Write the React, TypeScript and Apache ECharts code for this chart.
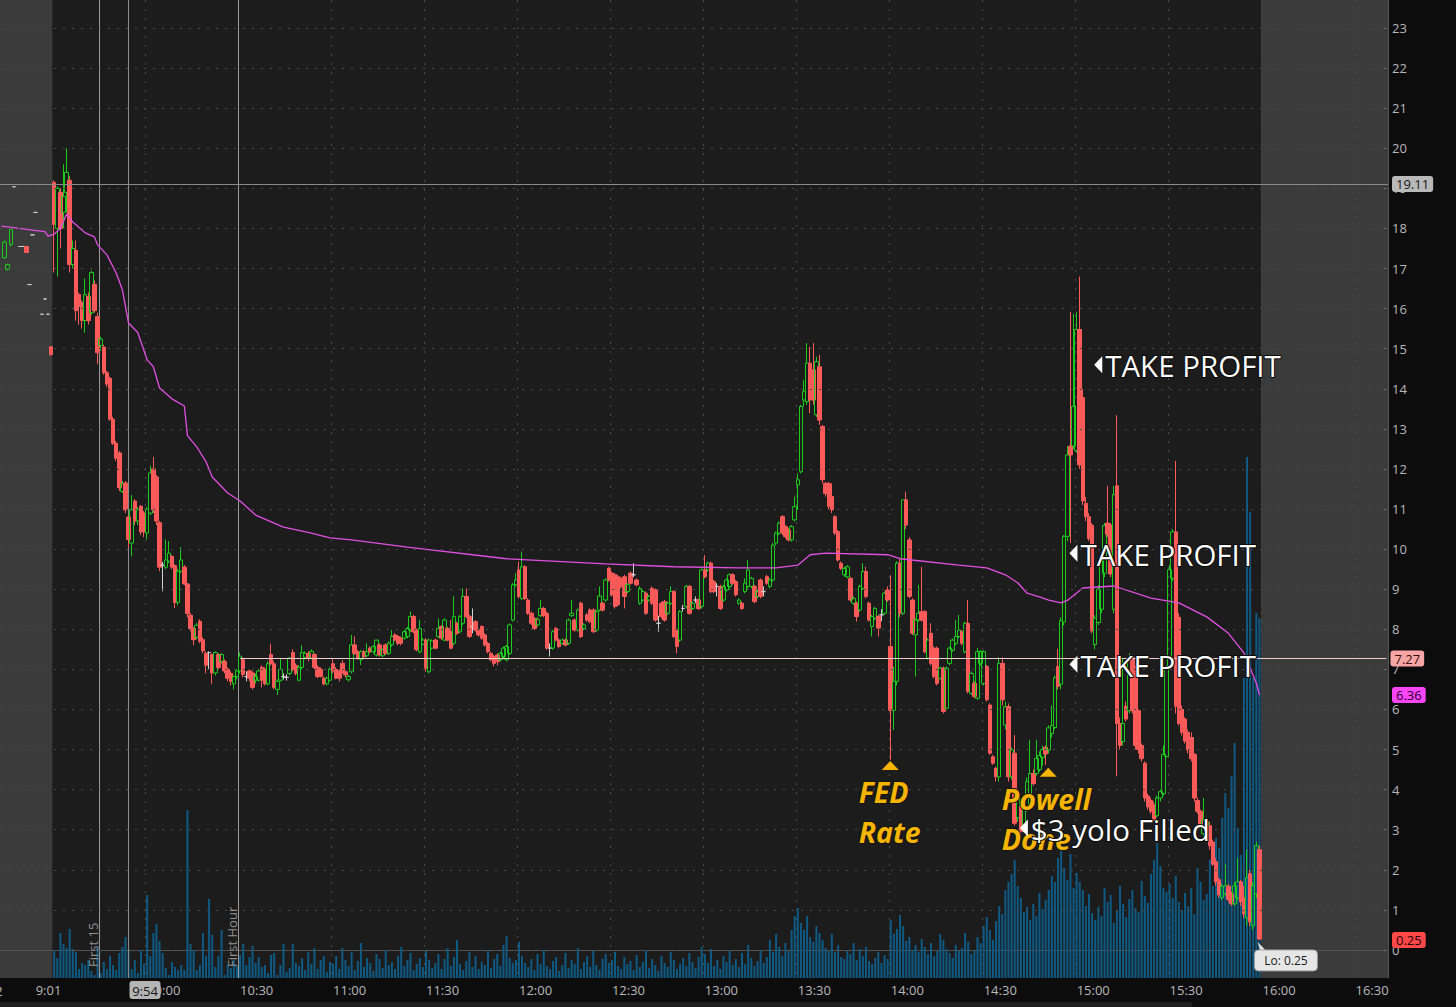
import React, { useEffect, useRef } from "react";
import * as echarts from "echarts";

const FONT = '"Open Sans", "Noto Sans", sans-serif';

// ---------- time axis ----------
const preMarketTimes = ["8:00", "8:04", "8:09", "8:15", "8:21", "8:26", "8:31", "8:37", "8:42", "8:47", "8:52", "9:01", "9:08", "9:13", "9:18", "9:23", "9:27"];
const shownTimes = ["9:01", "10:00", "10:30", "11:00", "11:30", "12:00", "12:30", "13:00", "13:30", "14:00", "14:30", "15:00", "15:30", "16:00", "16:30"];
const priceTicks = [0, 1, 2, 3, 4, 5, 6, 7, 8, 9, 10, 11, 12, 13, 14, 15, 16, 17, 18, 19, 20, 21, 22, 23];

// ---------- candles [open, close, low, high] ----------
const preMarket: any[] = [null, [17.27, 17.66, 17.25, 17.7], [16.98, 17.1, 16.95, 17.12], [17.6, 17.98, 17.55, 18.0], [19.04, 19.04, 19.04, 19.04], null, [17.55, 17.55, 17.55, 17.55], [17.55, 17.55, 17.55, 17.55], [17.55, 17.4, 17.4, 17.55], [16.6, 16.6, 16.6, 16.6], [17.84, 17.84, 17.84, 17.84], [18.4, 18.4, 18.4, 18.4], null, [15.86, 15.86, 15.86, 15.86], [16.24, 16.24, 16.24, 16.24], [15.86, 15.86, 15.86, 15.86], [15.05, 14.85, 14.83, 15.05]];

const c0930 = [[19.15, 18.1, 16.9, 19.2], [18.0, 19.0, 16.8, 19.05], [18.9, 18.0, 17.5, 19.0], [18.4, 18.8, 18.0, 19.6], [18.9, 19.4, 18.4, 20.0], [19.2, 17.1, 16.9, 19.3], [17.1, 17.5, 17.0, 17.7], [17.45, 15.95, 15.7, 17.7], [16.35, 16.05, 15.6, 16.4], [16.15, 15.7, 15.5, 16.2], [15.7, 16.35, 15.4, 16.75], [16.3, 15.7, 15.6, 16.4], [15.9, 16.9, 15.85, 16.95], [16.6, 15.95, 15.9, 16.7], [15.8, 14.9, 14.62, 15.9], [15.08, 15.24, 14.95, 15.3], [15.04, 14.4, 14.35, 15.1], [14.4, 14.12, 14.05, 14.45], [14.26, 13.24, 13.2, 14.3], [13.24, 12.64, 12.6, 13.3], [12.64, 12.27, 12.2, 12.7], [12.4, 11.53, 11.45, 12.45], [11.44, 11.63, 11.4, 11.7], [11.65, 10.98, 10.9, 11.7], [10.8, 10.24, 10.05, 10.85], [10.15, 10.98, 9.82, 11.35], [11.2, 10.7, 10.6, 11.25], [10.7, 10.98, 10.6, 11.05], [11.07, 10.43, 10.35, 11.1], [10.9, 10.43, 10.3, 10.95]];
const c1000 = [[10.4, 11.0, 10.24, 11.05], [10.9, 11.9, 10.85, 12.08], [12.0, 10.98, 10.9, 12.3], [11.8, 10.7, 10.6, 11.85], [10.66, 9.55, 9.45, 10.7], [9.6, 9.6, 8.95, 9.68], [9.55, 9.73, 9.5, 10.24], [9.7, 9.9, 9.65, 10.2], [9.82, 9.55, 9.5, 9.85], [9.59, 8.67, 8.53, 9.62], [8.67, 9.45, 8.6, 9.5], [9.45, 9.73, 9.4, 10.05], [9.55, 9.13, 9.1, 9.6], [9.13, 8.39, 8.3, 9.15], [8.35, 8.02, 7.95, 8.4], [8.02, 7.74, 7.6, 8.05], [7.8, 8.1, 7.75, 8.15], [8.2, 7.7, 7.65, 8.25], [7.74, 7.46, 7.4, 7.8], [7.4, 7.1, 6.9, 7.45], [7.42, 7.42, 7.0, 7.45], [7.37, 6.91, 6.64, 7.4], [6.91, 7.42, 6.85, 7.45], [7.37, 7.05, 7.0, 7.4], [7.2, 7.37, 7.15, 7.4], [7.2, 6.96, 6.9, 7.25], [7.0, 6.78, 6.7, 7.05], [6.9, 6.7, 6.6, 6.95], [6.64, 6.82, 6.5, 6.85], [6.82, 6.96, 6.75, 7.0]];
const c1030 = [[6.96, 7.33, 6.9, 7.42], [7.24, 6.87, 6.8, 7.3], [6.82, 6.82, 6.7, 6.95], [6.96, 6.78, 6.7, 7.0], [6.91, 6.55, 6.5, 6.95], [6.73, 6.82, 6.65, 6.9], [6.73, 6.96, 6.7, 7.0], [7.05, 6.73, 6.55, 7.1], [7.0, 6.64, 6.6, 7.05], [6.64, 7.14, 6.6, 7.2], [7.37, 7.14, 7.1, 7.64], [7.14, 6.55, 6.5, 7.2], [6.5, 6.7, 6.36, 6.75], [6.73, 7.0, 6.7, 7.28], [6.82, 6.82, 6.75, 6.9], [6.8, 6.8, 6.72, 6.88], [6.9, 7.28, 6.85, 7.3], [7.42, 7.0, 6.95, 7.5], [7.1, 6.9, 6.85, 7.15], [6.73, 7.05, 6.7, 7.1], [7.05, 7.42, 7.0, 7.6], [7.3, 7.4, 7.25, 7.45], [7.4, 7.28, 7.2, 7.45], [7.28, 7.45, 7.25, 7.5], [7.37, 7.05, 7.0, 7.4], [7.05, 6.82, 6.78, 7.1], [7.0, 6.82, 6.8, 7.05], [6.78, 6.64, 6.6, 6.82], [6.64, 6.78, 6.6, 6.82], [6.73, 7.0, 6.7, 7.05]];
const c1100 = [[7.14, 6.96, 6.9, 7.28], [7.0, 6.78, 6.75, 7.05], [6.96, 6.78, 6.7, 7.0], [7.15, 6.94, 6.9, 7.23], [6.94, 6.86, 6.8, 6.98], [6.74, 6.82, 6.7, 6.86], [6.94, 7.61, 6.9, 7.86], [7.61, 7.4, 7.36, 7.82], [7.44, 7.28, 7.24, 7.48], [7.24, 7.44, 7.11, 7.48], [7.44, 7.32, 7.28, 7.48], [7.34, 7.44, 7.3, 7.65], [7.53, 7.44, 7.4, 7.57], [7.44, 7.57, 7.4, 7.6], [7.36, 7.73, 7.32, 7.74], [7.61, 7.36, 7.32, 7.65], [7.34, 7.49, 7.3, 7.52], [7.61, 7.4, 7.36, 7.65], [7.4, 7.65, 7.36, 7.7], [7.61, 7.82, 7.57, 7.98], [7.86, 7.73, 7.7, 7.9], [7.82, 7.65, 7.6, 7.86], [7.78, 7.65, 7.6, 7.82], [7.78, 7.94, 7.74, 7.98], [7.82, 8.02, 7.78, 8.06], [7.98, 8.32, 7.94, 8.44], [8.32, 7.94, 7.9, 8.36], [7.98, 7.49, 7.45, 8.02], [7.44, 8.02, 7.4, 8.23], [7.63, 7.73, 7.6, 7.78]];
const c1130 = [[7.73, 7.03, 6.94, 7.78], [6.94, 7.73, 6.9, 7.77], [7.53, 7.71, 7.5, 7.75], [7.73, 7.53, 7.5, 7.77], [7.82, 8.02, 7.78, 8.27], [8.07, 7.78, 7.74, 8.1], [7.73, 8.23, 7.7, 8.27], [8.02, 7.73, 7.7, 8.06], [7.94, 7.53, 7.5, 8.23], [7.65, 8.32, 7.6, 8.82], [8.15, 7.9, 7.86, 8.19], [7.94, 8.32, 7.9, 8.36], [8.15, 8.82, 8.1, 9.02], [8.82, 8.32, 8.28, 9.02], [8.32, 7.82, 7.78, 8.36], [8.07, 8.07, 7.9, 8.52], [8.19, 7.98, 7.94, 8.23], [7.98, 7.86, 7.82, 8.02], [8.07, 7.78, 7.74, 8.1], [7.86, 7.61, 7.57, 7.9], [7.65, 7.44, 7.4, 7.69], [7.4, 7.24, 7.2, 7.44], [7.32, 7.15, 7.07, 7.36], [7.36, 7.19, 7.1, 7.4], [7.24, 7.4, 7.2, 7.44], [7.32, 7.53, 7.28, 7.57], [7.24, 7.57, 7.2, 7.61], [7.4, 8.11, 7.36, 8.15], [8.23, 9.11, 8.19, 9.15], [9.11, 9.23, 9.07, 9.4]];
const c1200 = [[9.48, 8.82, 8.77, 9.69], [8.77, 9.56, 8.73, 9.94], [9.56, 8.77, 8.73, 9.6], [8.73, 8.4, 8.36, 8.77], [8.4, 8.15, 8.11, 8.44], [8.27, 8.02, 7.98, 8.3], [8.11, 8.25, 8.07, 8.3], [8.34, 8.52, 8.3, 8.73], [8.52, 8.34, 8.3, 8.56], [8.4, 7.53, 7.49, 8.44], [7.53, 7.53, 7.32, 7.65], [7.53, 7.94, 7.49, 7.98], [8.02, 7.73, 7.7, 8.06], [7.73, 7.57, 7.53, 7.77], [7.65, 7.73, 7.61, 7.77], [7.73, 7.61, 7.57, 7.77], [7.65, 8.23, 7.61, 8.27], [8.34, 8.4, 8.3, 8.73], [8.23, 7.98, 7.94, 8.27], [7.98, 8.48, 7.94, 8.52], [8.65, 7.82, 7.78, 8.69], [8.02, 8.11, 7.98, 8.15], [8.36, 8.23, 8.19, 8.4], [8.48, 8.19, 8.15, 8.52], [8.48, 7.94, 7.9, 8.52], [7.98, 8.44, 7.94, 8.48], [8.48, 8.83, 8.44, 9.07], [8.65, 8.48, 8.44, 8.69], [8.73, 9.23, 8.69, 9.27], [9.52, 9.23, 9.19, 9.56]];
const c1230 = [[9.4, 8.86, 8.82, 9.44], [9.36, 8.57, 8.52, 9.4], [9.31, 8.61, 8.57, 9.36], [9.27, 9.07, 9.02, 9.31], [9.31, 8.82, 8.52, 9.36], [8.94, 9.11, 8.9, 9.15], [9.4, 9.15, 9.11, 9.44], [9.36, 9.36, 9.3, 9.65], [9.23, 9.11, 9.07, 9.27], [8.65, 9.02, 8.61, 9.07], [8.73, 8.94, 8.69, 8.98], [8.9, 8.4, 8.36, 8.94], [8.73, 8.82, 8.69, 8.86], [9.02, 8.65, 8.61, 9.07], [8.98, 8.23, 8.19, 9.02], [8.15, 8.15, 7.94, 8.34], [8.65, 8.32, 8.27, 8.69], [8.69, 8.23, 8.19, 8.73], [8.4, 8.65, 8.36, 8.69], [8.65, 8.94, 8.61, 9.07], [8.94, 7.82, 7.78, 8.98], [7.98, 7.57, 7.4, 8.02], [7.73, 8.44, 7.69, 8.48], [8.52, 8.52, 8.44, 8.61], [8.57, 9.07, 8.52, 9.11], [9.07, 8.4, 8.36, 9.11], [8.52, 8.65, 8.48, 8.69], [8.73, 8.73, 8.65, 8.82], [8.73, 8.52, 8.48, 8.77], [8.57, 9.48, 8.52, 9.52]];
const c1300 = [[9.48, 9.31, 9.27, 9.85], [9.48, 9.65, 9.44, 9.69], [9.65, 8.94, 8.9, 9.69], [9.19, 8.94, 8.9, 9.23], [9.07, 9.07, 8.82, 9.15], [9.07, 8.52, 8.48, 9.11], [8.73, 9.07, 8.69, 9.11], [8.98, 9.23, 8.94, 9.27], [9.07, 9.36, 9.02, 9.4], [9.36, 9.15, 9.11, 9.4], [9.19, 8.86, 8.82, 9.23], [8.65, 8.73, 8.61, 8.77], [8.65, 8.52, 8.48, 8.69], [8.94, 9.15, 8.9, 9.27], [9.07, 9.48, 9.02, 9.73], [9.07, 9.27, 9.02, 9.31], [9.07, 8.69, 8.65, 9.11], [8.82, 8.94, 8.77, 8.98], [9.23, 8.82, 8.77, 9.27], [8.94, 8.94, 8.82, 9.07], [9.31, 9.15, 9.11, 9.36], [9.07, 9.23, 9.02, 9.27], [9.23, 10.1, 9.19, 10.15], [10.15, 10.4, 10.1, 10.44], [10.4, 10.65, 10.35, 10.69], [10.81, 10.4, 10.35, 10.85], [10.56, 10.31, 10.27, 10.6], [10.48, 10.23, 10.19, 10.52], [10.23, 10.56, 10.19, 10.6], [10.73, 11.06, 10.69, 11.31]];
const c1330 = [[11.6, 11.73, 10.98, 11.89], [11.93, 13.56, 11.89, 13.6], [13.72, 13.93, 13.56, 14.22], [13.68, 14.64, 13.6, 15.14], [14.64, 13.72, 13.39, 15.05], [14.47, 13.72, 13.6, 15.14], [13.35, 14.68, 13.3, 14.8], [14.55, 13.22, 13.1, 14.85], [13.06, 11.73, 11.64, 13.1], [11.64, 11.39, 11.31, 11.68], [11.64, 11.06, 11.0, 11.68], [11.31, 10.98, 10.9, 11.64], [10.81, 10.4, 10.35, 10.85], [10.44, 9.73, 9.69, 10.48], [9.65, 9.52, 9.48, 9.69], [9.36, 9.52, 9.31, 9.56], [9.31, 9.56, 9.27, 9.6], [9.27, 8.73, 8.69, 9.31], [8.65, 8.77, 8.61, 8.82], [8.65, 8.32, 8.19, 8.69], [8.48, 9.07, 8.44, 9.11], [9.02, 9.44, 8.98, 9.65], [9.44, 8.82, 8.77, 9.56], [8.65, 8.23, 8.19, 8.69], [8.07, 8.32, 7.82, 8.36], [8.28, 8.52, 8.23, 8.56], [8.32, 8.03, 7.82, 8.36], [8.36, 8.36, 8.2, 8.5], [8.4, 8.9, 8.36, 8.94], [8.98, 8.73, 8.69, 9.07]];
const c1400 = [[7.57, 5.98, 4.74, 9.35], [5.98, 6.7, 5.49, 7.07], [6.7, 9.65, 6.6, 9.7], [9.65, 8.4, 8.3, 9.75], [8.4, 11.23, 8.35, 11.23], [11.23, 10.6, 10.5, 11.43], [10.23, 8.82, 8.77, 10.3], [8.73, 7.9, 7.86, 8.77], [7.86, 8.23, 6.82, 8.27], [8.23, 8.4, 8.19, 9.11], [8.44, 8.23, 8.19, 9.56], [8.44, 7.44, 7.4, 8.48], [7.28, 7.73, 7.24, 7.77], [7.9, 7.15, 7.1, 8.15], [7.53, 6.82, 6.78, 7.57], [7.53, 6.65, 6.6, 7.57], [6.78, 7.03, 6.74, 7.07], [7.03, 5.95, 5.9, 7.07], [6.03, 7.03, 5.98, 7.07], [7.15, 7.53, 7.1, 7.57], [7.48, 7.73, 7.44, 7.77], [7.65, 7.82, 7.6, 8.23], [7.82, 7.98, 7.78, 8.36], [7.94, 7.65, 7.6, 7.98], [7.44, 8.15, 7.4, 8.19], [8.15, 6.45, 6.4, 8.73], [6.4, 6.9, 6.36, 6.95], [6.65, 6.32, 6.28, 6.7], [6.28, 7.44, 6.24, 7.53], [7.15, 7.44, 7.1, 7.48]];
const c1430 = [[6.65, 7.44, 6.6, 7.48], [7.07, 6.24, 6.2, 7.11], [6.11, 4.91, 4.87, 6.15], [4.82, 4.66, 4.62, 4.86], [4.53, 4.32, 4.2, 4.57], [4.32, 7.15, 4.2, 7.3], [7.15, 6.24, 6.1, 7.3], [5.61, 6.07, 5.5, 6.2], [6.07, 4.32, 4.2, 6.15], [4.32, 4.99, 4.25, 5.05], [4.91, 3.16, 3.1, 5.36], [3.3, 3.9, 3.2, 4.0], [3.57, 2.95, 2.87, 3.65], [3.0, 3.57, 2.95, 3.6], [3.5, 4.2, 3.45, 4.3], [3.9, 4.4, 3.8, 5.24], [4.4, 4.15, 4.1, 4.5], [4.4, 4.78, 4.35, 5.24], [4.5, 4.85, 4.45, 4.95], [4.8, 5.0, 4.6, 5.1], [5.05, 4.89, 4.62, 5.1], [4.99, 5.54, 4.9, 5.6], [5.4, 5.6, 5.3, 6.1], [5.55, 6.79, 5.5, 6.85], [7.07, 6.58, 6.5, 7.51], [6.63, 8.22, 6.5, 8.3], [8.18, 10.32, 8.1, 10.35], [10.32, 12.35, 10.2, 12.57], [12.57, 12.35, 10.15, 15.92], [12.57, 13.56, 12.5, 15.87]];
const c1500 = [[12.46, 15.48, 12.4, 15.92], [15.48, 12.1, 12.0, 16.8], [13.78, 11.2, 11.1, 14.0], [11.14, 10.81, 10.7, 11.3], [10.81, 10.26, 10.2, 10.9], [10.6, 7.96, 7.9, 10.65], [7.62, 8.28, 7.5, 8.35], [8.17, 9.0, 8.1, 9.1], [8.5, 9.71, 8.4, 9.8], [9.4, 10.59, 9.3, 10.65], [10.65, 10.37, 10.3, 11.58], [10.6, 9.38, 9.3, 10.65], [8.5, 11.36, 8.4, 11.58], [11.58, 5.65, 4.33, 13.34], [5.65, 5.1, 5.0, 5.8], [5.2, 5.65, 5.1, 7.29], [6.08, 5.76, 5.7, 6.2], [5.97, 7.29, 5.9, 7.4], [7.29, 5.97, 5.9, 7.35], [7.07, 5.1, 5.0, 7.1], [5.97, 5.0, 4.9, 6.0], [5.1, 4.77, 4.7, 5.15], [4.66, 3.79, 3.7, 4.7], [3.84, 3.57, 3.5, 3.9], [3.73, 3.46, 3.4, 3.8], [3.62, 3.24, 3.2, 3.7], [3.35, 3.79, 3.3, 3.85], [3.79, 3.95, 3.7, 4.0], [3.9, 4.88, 3.85, 5.1], [4.83, 7.07, 4.8, 7.1]];
const c1530 = [[7.07, 9.49, 7.0, 9.6], [9.27, 10.43, 9.2, 10.5], [10.43, 6.08, 5.9, 12.2], [8.3, 5.65, 5.6, 8.4], [6.0, 5.43, 5.35, 6.1], [5.76, 5.21, 5.15, 5.8], [5.43, 4.99, 4.9, 5.5], [5.3, 4.77, 4.7, 5.43], [4.88, 3.79, 3.7, 4.9], [3.73, 3.46, 3.4, 3.8], [3.46, 3.13, 3.1, 3.5], [2.9, 3.24, 2.85, 3.79], [3.0, 3.2, 2.9, 3.3], [3.1, 2.6, 2.5, 3.2], [2.69, 2.14, 2.1, 2.75], [2.2, 1.7, 1.6, 2.3], [1.75, 1.37, 1.3, 1.8], [1.3, 1.59, 1.25, 1.65], [1.4, 1.6, 1.35, 2.14], [1.59, 1.26, 1.2, 1.65], [1.4, 1.15, 1.1, 1.45], [1.15, 1.6, 1.1, 1.7], [1.3, 1.7, 1.25, 2.3], [1.7, 1.2, 1.1, 1.75], [1.3, 0.9, 0.8, 1.6], [0.8, 1.8, 0.6, 2.5], [1.9, 0.7, 0.6, 2.0], [0.6, 1.6, 0.5, 1.7], [1.4, 2.6, 1.3, 2.7], [2.5, 0.27, 0.25, 2.6]];

// ---------- volume (thousands, approx.) ----------
const v0930 = [28, 20, 45, 34, 30, 49, 29, 26, 9, 15, 13, 18, 7, 3, 32, 5, 16, 9, 22, 13, 8, 25, 31, 41, 29, 9, 18, 5, 28, 14];
const v1000 = [83, 22, 45, 54, 37, 25, 10, 3, 16, 11, 8, 13, 8, 168, 34, 28, 8, 13, 45, 22, 79, 43, 11, 22, 48, 3, 13, 10, 18, 12];
const v1030 = [23, 34, 13, 21, 32, 15, 21, 11, 13, 5, 23, 25, 3, 13, 34, 6, 10, 34, 15, 12, 20, 8, 26, 14, 30, 9, 18, 22, 6, 16];
const v1100 = [14, 22, 9, 30, 18, 12, 26, 8, 17, 35, 11, 20, 15, 7, 24, 19, 10, 28, 13, 16, 9, 22, 31, 12, 18, 25, 8, 14, 20, 11];
const v1130 = [27, 18, 10, 15, 24, 9, 19, 30, 12, 21, 38, 14, 8, 17, 26, 11, 22, 9, 16, 13, 28, 10, 19, 24, 12, 33, 42, 20, 15, 18];
const v1200 = [36, 22, 15, 11, 19, 8, 24, 14, 28, 12, 9, 17, 21, 7, 13, 25, 10, 18, 14, 30, 9, 16, 22, 11, 27, 13, 8, 19, 24, 15];
const v1230 = [18, 26, 12, 9, 21, 14, 17, 8, 23, 11, 16, 28, 10, 19, 13, 7, 22, 15, 11, 26, 18, 9, 14, 20, 12, 25, 16, 10, 21, 31];
const v1300 = [24, 15, 29, 12, 18, 9, 22, 16, 27, 13, 19, 11, 25, 14, 33, 20, 12, 17, 28, 15, 21, 38, 26, 44, 31, 22, 35, 27, 48, 62];
const v1330 = [70, 55, 48, 62, 41, 36, 52, 45, 38, 30, 28, 44, 26, 33, 21, 19, 27, 24, 35, 18, 29, 22, 31, 17, 14, 20, 26, 15, 23, 19];
const v1400 = [58, 44, 49, 63, 52, 37, 41, 28, 33, 26, 39, 31, 24, 35, 22, 27, 44, 38, 29, 25, 20, 33, 27, 30, 45, 36, 24, 28, 41, 35];
const v1430 = [52, 61, 48, 38, 57, 72, 64, 88, 96, 104, 118, 92, 80, 66, 71, 58, 74, 62, 85, 69, 78, 88, 102, 96, 120, 145, 110, 98, 124, 90];
const v1500 = [105, 96, 88, 72, 84, 65, 58, 71, 62, 90, 76, 83, 55, 68, 92, 74, 61, 79, 88, 70, 66, 97, 82, 75, 104, 118, 135, 112, 90, 86];
const v1530 = [94, 80, 102, 76, 68, 85, 72, 90, 64, 110, 96, 78, 84, 118, 92, 140, 130, 160, 185, 170, 202, 235, 150, 123, 300, 521, 466, 300, 365, 360];

// ---------- moving average (bar index, value) ----------
const maIndex = [0, 10, 14, 15, 17, 19, 21, 23, 27, 30, 31, 34, 37, 39, 41, 44, 47, 49, 51, 55, 59, 60, 63, 66, 68, 73, 77, 82, 91, 99, 106, 113, 131, 163, 195, 217, 238, 250, 257, 261, 266, 286, 290, 309, 318, 324, 328, 331, 335, 338, 342, 344, 349, 359, 371, 380, 389, 396, 401, 405, 406];
const maValue = [18.06, 17.96, 17.92, 17.81, 17.86, 18.0, 18.36, 18.16, 17.89, 17.79, 17.59, 17.34, 16.89, 16.47, 15.64, 15.4, 14.72, 14.55, 14.02, 13.75, 13.57, 12.83, 12.55, 12.18, 11.8, 11.4, 11.2, 10.85, 10.55, 10.42, 10.28, 10.23, 10.05, 9.76, 9.63, 9.56, 9.53, 9.53, 9.6, 9.86, 9.9, 9.86, 9.76, 9.6, 9.53, 9.36, 9.16, 8.9, 8.81, 8.73, 8.66, 8.72, 9.03, 9.08, 8.78, 8.66, 8.31, 7.9, 7.41, 6.66, 6.36];

// ---------- levels & labels ----------
const crossPrice = 19.11;
const levelPrice = 7.27;
const maLast = 6.36;
const lastPrice = 0.25;
const crossTime = "9:54";
const first15Time = "9:45";
const firstHourTime = "10:30";
const lowText = "Lo: 0.25";

// ---------- chart annotations (bar index + price) ----------
const eventMarks = [
  { idx: 287, price: 4.74, lines: ["FED", "Rate"], dx: -32 },
  { idx: 338, price: 4.57, lines: ["Powell", "Done"], dx: -47 },
];
const orderMarks = [
  { idx: 329, price: 3.04, text: "$3 yolo Filled" },
  { idx: 353, price: 14.6, text: "TAKE PROFIT" },
  { idx: 345, price: 9.9, text: "TAKE PROFIT" },
  { idx: 345, price: 7.13, text: "TAKE PROFIT" },
];

export default function App() {
  const ref = useRef<HTMLDivElement>(null);
  useEffect(() => {
    if (!ref.current) return;
    const chart = echarts.init(ref.current, null, { renderer: "svg" });

    const cats: string[] = [...preMarketTimes];
    for (let t = 9 * 60 + 30; t <= 16 * 60 + 40; t++) {
      cats.push(`${Math.floor(t / 60)}:${String(t % 60).padStart(2, "0")}`);
    }
    const nPre = preMarketTimes.length;
    const regular = [...c0930, ...c1000, ...c1030, ...c1100, ...c1130, ...c1200, ...c1230, ...c1300, ...c1330, ...c1400, ...c1430, ...c1500, ...c1530];
    const nAfter = cats.length - nPre - regular.length;
    const GREY = "#d0d0d0";
    const candleData = [...preMarket, ...regular, ...new Array(nAfter).fill(null)].map((d: any) => {
      if (!d) return "-";
      if (d[0] === d[1]) {
        return { value: d, itemStyle: { color: GREY, color0: GREY, borderColor: GREY, borderColor0: GREY } };
      }
      return d;
    });
    const vols = [...v0930, ...v1000, ...v1030, ...v1100, ...v1130, ...v1200, ...v1230, ...v1300, ...v1330, ...v1400, ...v1430, ...v1500, ...v1530];
    const volData = [...new Array(nPre).fill("-"), ...vols, ...new Array(nAfter).fill("-")];
    const maData = maIndex.map((i, k) => [i, maValue[k]]);
    const shown = new Set(shownTimes);
    const splitSet = new Set(shownTimes.slice(1));

    const tag = (bg: string, fg: string, text: string) => ({
      show: true,
      position: "end",
      distance: 4,
      formatter: text,
      backgroundColor: bg,
      color: fg,
      padding: [2, 4, 1, 4],
      borderRadius: 3,
      fontSize: 13,
      fontFamily: FONT,
    });
    const hidden = { color: "rgba(0,0,0,0)", width: 0.01, type: "solid" };

    const option: any = {
      animation: false,
      backgroundColor: "#0c0c0c",
      grid: { left: 0, right: 68, top: 0, bottom: 29, containLabel: false, outerBoundsMode: "none" },
      xAxis: {
        type: "category",
        data: cats,
        boundaryGap: true,
        axisLine: { show: true, lineStyle: { color: "#555555", width: 1 } },
        axisTick: { show: false },
        axisLabel: {
          interval: (_i: number, v: string) => shown.has(v),
          color: "#b8b8b8",
          fontSize: 13,
          fontFamily: FONT,
          align: "left",
          margin: 5,
        },
        splitLine: {
          show: true,
          interval: (_i: number, v: string) => splitSet.has(v),
          lineStyle: { color: "#4a4a4a", type: [2, 7], width: 1 },
        },
      },
      yAxis: [
        {
          type: "value",
          position: "right",
          min: -0.7,
          max: 23.7,
          axisLine: { show: true, lineStyle: { color: "#555555" } },
          axisTick: { show: true, inside: true, length: 4, lineStyle: { color: "#777777" }, customValues: priceTicks },
          axisLabel: { color: "#b8b8b8", fontSize: 13, fontFamily: FONT, margin: 4, customValues: priceTicks },
          splitLine: { show: false },
        },
        { type: "value", min: 0, max: 978, show: false, splitLine: { show: false } },
      ],
      series: [
        {
          type: "line",
          name: "grid",
          data: [],
          silent: true,
          z: 1,
          markLine: {
            silent: true,
            symbol: ["none", "none"],
            label: { show: false },
            lineStyle: { color: "#4a4a4a", type: [2, 7], width: 1 },
            data: priceTicks.map((v) => ({ yAxis: v })),
          },
        },
        {
          type: "bar",
          name: "Volume",
          yAxisIndex: 1,
          data: volData,
          barWidth: 2,
          silent: true,
          z: 2,
          itemStyle: { color: "#0e5a84" },
        },
        {
          type: "candlestick",
          name: "Price",
          data: candleData,
          barWidth: 4,
          z: 3,
          itemStyle: {
            color: "rgba(0,0,0,0)",
            color0: "#ff5a5a",
            borderColor: "#1ccc1c",
            borderColor0: "#ff5a5a",
            borderWidth: 1,
          },
          markLine: {
            silent: true,
            symbol: ["none", "none"],
            data: [
              { yAxis: crossPrice, lineStyle: { color: "#8a8a8a", width: 1, type: "solid" }, label: tag("#b9b9b9", "#161616", String(crossPrice)) },
              [
                { coord: [firstHourTime, levelPrice], lineStyle: { color: "#f3cdcd", width: 1, type: "solid" }, label: tag("#f7a6a6", "#3b0a0a", String(levelPrice)) },
                { coord: [cats[cats.length - 1], levelPrice] },
              ],
              { yAxis: maLast, lineStyle: hidden, label: tag("#ff45ff", "#2a002a", String(maLast)) },
              { yAxis: lastPrice, lineStyle: hidden, label: tag("#ff4848", "#2a0000", String(lastPrice)) },
            ],
          },
        },
        {
          type: "line",
          name: "MA",
          data: maData,
          showSymbol: false,
          symbol: "none",
          silent: true,
          z: 4,
          lineStyle: { color: "#e24fe2", width: 1.3 },
        },
      ],
    };
    chart.setOption(option);

    // ---------- overlay graphics positioned through the chart's own scales ----------
    const X = (i: any) => chart.convertToPixel({ xAxisIndex: 0 }, i) as number;
    const Y = (v: number) => chart.convertToPixel({ yAxisIndex: 0 }, v) as number;
    const bw = X(1) - X(0);
    const top = Y(23.7);
    const bottom = Y(-0.7);
    const right = X(cats.length - 1) + bw / 2;
    const preEnd = X(nPre) - bw / 2;
    const postStart = X(nPre + regular.length) - bw / 2;
    const f15 = Math.floor(X(first15Time) - bw / 2) + 0.5;
    const fh = Math.floor(X(firstHourTime) - bw / 2) + 0.5;
    const cross = Math.floor(X(crossTime)) + 0.5;

    const g: any[] = [
      { type: "rect", silent: true, z: -10, shape: { x: 0, y: top, width: preEnd, height: bottom - top }, style: { fill: "#3b3b3b" } },
      { type: "rect", silent: true, z: -10, shape: { x: preEnd, y: top, width: postStart - preEnd, height: bottom - top }, style: { fill: "#1c1c1c" } },
      { type: "rect", silent: true, z: -10, shape: { x: postStart, y: top, width: right - postStart, height: bottom - top }, style: { fill: "#3b3b3b" } },
      { type: "rect", silent: true, z: -10, shape: { x: 0, y: bottom + 24, width: 1192, height: 5 }, style: { fill: "#1e1e1e" } },
      { type: "line", silent: true, z: 2.5, shape: { x1: f15, y1: top, x2: f15, y2: bottom }, style: { stroke: "#9a9a9a", lineWidth: 1 } },
      { type: "line", silent: true, z: 2.5, shape: { x1: cross, y1: top, x2: cross, y2: bottom }, style: { stroke: "#8c8c8c", lineWidth: 1 } },
      { type: "line", silent: true, z: 2.5, shape: { x1: fh, y1: top, x2: fh, y2: bottom }, style: { stroke: "#9a9a9a", lineWidth: 1 } },
      { type: "text", silent: true, z: 5, x: f15 - 0.5, y: bottom - 11, rotation: Math.PI / 2, style: { text: "First 15", fill: "#8f8f8f", font: `13px ${FONT}`, align: "left", verticalAlign: "bottom", textAlign: "left", textVerticalAlign: "bottom" } },
      { type: "text", silent: true, z: 5, x: fh - 0.5, y: bottom - 11, rotation: Math.PI / 2, style: { text: "First Hour", fill: "#8f8f8f", font: `13px ${FONT}`, align: "left", verticalAlign: "bottom", textAlign: "left", textVerticalAlign: "bottom" } },
      { type: "text", silent: true, z: 5, x: -23, y: bottom + 13, style: { text: "8:52", fill: "#b8b8b8", font: `13px ${FONT}`, align: "left", verticalAlign: "middle", textAlign: "left", textVerticalAlign: "middle" } },
      {
        type: "group",
        silent: true,
        z: 20,
        x: cross + 1,
        y: bottom + 3,
        children: [
          { type: "rect", z: 20, shape: { x: 0, y: 0, width: 31, height: 18, r: 3 }, style: { fill: "#b5b5b5" } },
          { type: "text", z: 21, x: 15.5, y: 9.5, style: { text: crossTime, fill: "#151515", font: `13px ${FONT}`, align: "center", verticalAlign: "middle", textAlign: "center", textVerticalAlign: "middle" } },
        ],
      },
    ];

    const gold = "#f5b400";
    eventMarks.forEach((m) => {
      const ax = X(m.idx);
      const ay = Y(m.price);
      g.push({ type: "polygon", silent: true, z: 20, shape: { points: [[ax - 9, ay + 10], [ax + 8, ay + 10], [ax - 0.5, ay + 1]] }, style: { fill: gold } });
      m.lines.forEach((ln, k) => {
        g.push({
          type: "text", silent: true, z: 20, x: ax + m.dx, y: ay + 32 + k * 40,
          style: { text: ln, fill: gold, stroke: "#141414", lineWidth: 2, strokeFirst: true, font: `italic bold 28.5px ${FONT}`, align: "left", verticalAlign: "middle", textAlign: "left", textVerticalAlign: "middle" },
        });
      });
    });
    orderMarks.forEach((m) => {
      const ax = X(m.idx) - 1;
      const ay = Y(m.price);
      g.push({ type: "polygon", silent: true, z: 21, shape: { points: [[ax, ay], [ax + 8, ay - 8.5], [ax + 8, ay + 8.5]] }, style: { fill: "#ffffff" } });
      g.push({
        type: "text", silent: true, z: 21, x: ax + 11, y: ay + 1,
        style: { text: m.text, fill: "#ffffff", stroke: "#0a0a0a", lineWidth: 2, strokeFirst: true, font: `29.5px ${FONT}`, align: "left", verticalAlign: "middle", textAlign: "left", textVerticalAlign: "middle" },
      });
    });

    // low bubble at last bar
    const lx = X(nPre + regular.length - 1);
    const ly = Y(lastPrice);
    g.push({ type: "polygon", silent: true, z: 22, shape: { points: [[lx - 2, ly + 2], [lx + 1, ly + 11], [lx + 7, ly + 11]] }, style: { fill: "#e2e2e2" } });
    g.push({ type: "rect", silent: true, z: 22, shape: { x: lx - 5, y: ly + 10, width: 63, height: 21, r: 4 }, style: { fill: "#e6e6e6", stroke: "#9a9a9a", lineWidth: 1 } });
    g.push({ type: "text", silent: true, z: 23, x: lx + 26.5, y: ly + 21, style: { text: lowText, fill: "#1a1a1a", font: `12px ${FONT}`, align: "center", verticalAlign: "middle", textAlign: "center", textVerticalAlign: "middle" } });

    chart.setOption({ graphic: g });

    return () => chart.dispose();
  }, []);

  return <div ref={ref} style={{ position: "fixed", left: 0, top: 0, width: 1456, height: 1007 }} />;
}
